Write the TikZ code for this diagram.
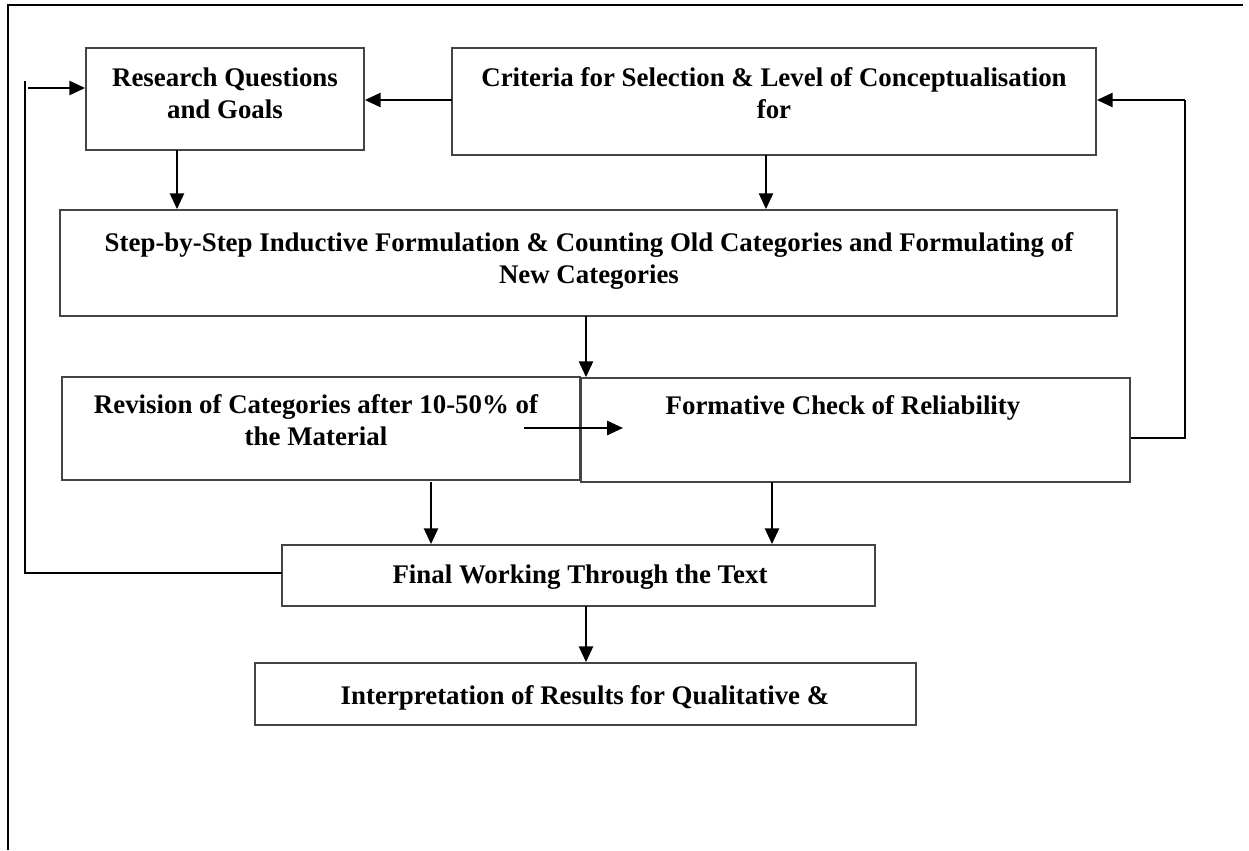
\documentclass[tikz,border=0pt]{standalone}
\usepackage{fontspec}
\setmainfont{Liberation Serif}
\usetikzlibrary{arrows.meta,fit}
\definecolor{boxgray}{HTML}{444444}
\begin{document}
\begin{tikzpicture}[x=0.02cm,y=-0.02cm,
  box/.style={draw=boxgray, line width=1pt, rectangle, inner sep=0pt},
  lbl/.style={font=\fontsize{15.3}{18.2}\selectfont\bfseries, align=center, inner sep=0pt},
  arr/.style={line width=1.35pt, -{Triangle[length=9pt,width=8pt]}},
  ln/.style={line width=1.35pt},
  frame/.style={line width=1.4pt}]
\useasboundingbox (0,0) rectangle (1249,850);

% outer frame (top and left edges)
\draw[frame] (1243,5) -- (8,5) -- (8,850);

% boxes
\node[box, fit={(86,48) (364,150)}] (rq) {};
\node[box, fit={(452,48) (1096,155)}] (crit) {};
\node[box, fit={(60,210) (1117,316)}] (step) {};
\node[box, fit={(62,377) (580,480)}] (rev) {};
\node[box, fit={(581,378) (1130,482)}] (form) {};
\node[box, fit={(282,545) (875,606)}] (final) {};
\node[box, fit={(255,663) (916,725)}] (interp) {};

% labels
\node[lbl] (trq) at (225,93) {Research Questions\\and Goals};
\node[lbl] (tcrit) at (774,93) {Criteria for Selection \& Level of Conceptualisation\\for};
\node[lbl] (tstep) at (589,261) {Step-by-Step Inductive Formulation \& Counting Old Categories and Formulating of\\New Categories};
\node[lbl] (trev) at (316,420) {Revision of Categories after 10-50\% of\\the Material};
\node[lbl] (tform) at (843,408) {Formative Check of Reliability};
\node[lbl] (tfinal) at (580,577) {Final Working Through the Text};
\node[lbl] (tinterp) at (585,698) {Interpretation of Results for Qualitative \&};

% connector anchor points
\coordinate (c1) at (452,100);
\coordinate (c2) at (177,150);
\coordinate (c3) at (766,155);
\coordinate (c4) at (586,316);
\coordinate (c5) at (524,428);
\coordinate (c6) at (623,428);
\coordinate (c7) at (431,482);
\coordinate (c8) at (772,482);
\coordinate (c9) at (586,606);
\coordinate (r1) at (1185,100);
\coordinate (r2) at (1185,438);
\coordinate (l1) at (282,573);
\coordinate (l2) at (25,573);
\coordinate (l3) at (25,81);
\coordinate (l4) at (28,88);

% main flow
\draw[arr] (c1) -- (c1 -| rq.east);
\draw[arr] (c2) -- (c2 |- step.north);
\draw[arr] (c3) -- (c3 |- step.north);
\draw[arr] (c4) -- (c4 |- form.north);
\draw[arr] (c5) -- (c6);
\draw[arr] (c7) -- (c7 |- final.north);
\draw[arr] (c8) -- (c8 |- final.north);
\draw[arr] (c9) -- (c9 |- interp.north);

% feedback loops
\draw[ln] (r2 -| form.east) -- (r2) -- (r1);
\draw[arr] (r1) -- (r1 -| crit.east);
\draw[ln] (l1) -- (l2) -- (l3);
\draw[arr] (l4) -- (l4 -| rq.west);
\end{tikzpicture}
\end{document}
